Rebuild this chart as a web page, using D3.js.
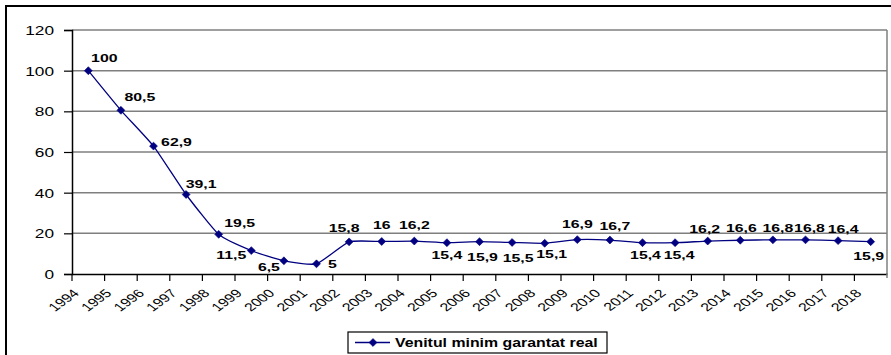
<!DOCTYPE html>
<html>
<head>
<meta charset="utf-8">
<script src="https://cdn.jsdelivr.net/npm/d3@7/dist/d3.min.js"></script>
<style>
  html, body { margin: 0; padding: 0; background: #fff; }
  svg { display: block; }
  text { font-family: "Liberation Sans", Arial, sans-serif; fill: #000; }
</style>
</head>
<body>
<svg id="chart" width="891" height="355"></svg>
<script>
// ---- data ----
const years = ["1994","1995","1996","1997","1998","1999","2000","2001","2002","2003","2004","2005","2006",
               "2007","2008","2009","2010","2011","2012","2013","2014","2015","2016","2017","2018"];
const values = [100, 80.5, 62.9, 39.1, 19.5, 11.5, 6.5, 5, 15.8, 16, 16.2, 15.4, 15.9,
                15.5, 15.1, 16.9, 16.7, 15.4, 15.4, 16.2, 16.6, 16.8, 16.8, 16.4, 15.9];
const yTicks = [0, 20, 40, 60, 80, 100, 120];
const seriesName = "Venitul minim garantat real";

// label placement (offset of label centre from its point, px)
const labelOffsets = [[16,-13],[19,-13],[23,-4],[15,-11],[21,-11],[-20,4],[-15,6],[16,0],
  [-5,-14],[0,-17],[0,-16],[0,12],[3,15],[6,15],[7,11],[0,-16],[5,-14],[3,12],[4,12],
  [-3,-12],[1,-12],[5,-12],[4,-12],[5,-12],[-2,14]];

const SX = 1.38; // horizontal stretch of text in the reference
const navy = "#000080";

const svg = d3.select("#chart");

// outer border
svg.append("rect").attr("x", 6).attr("y", 6).attr("width", 900).attr("height", 360)
  .attr("fill", "none").attr("stroke", "#000").attr("stroke-width", 2);

const pLeft = 72, pRight = 887, pTop = 30, pBottom = 274;

const x = d3.scaleBand().domain(years).range([pLeft, pRight]).paddingInner(0).paddingOuter(0);
const y = d3.scaleLinear().domain([0, 120]).range([pBottom, pTop]);

// gridlines
svg.append("g").selectAll("line").data(yTicks.filter(d => d > 0)).join("line")
  .attr("x1", pLeft).attr("x2", pRight)
  .attr("y1", d => y(d)).attr("y2", d => y(d))
  .attr("stroke", "#7f7f7f").attr("stroke-width", 1.5);

// right border of plot
svg.append("line").attr("x1", pRight).attr("x2", pRight).attr("y1", pTop).attr("y2", pBottom)
  .attr("stroke", "#7f7f7f").attr("stroke-width", 1.5);

// y axis
const yAxis = d3.axisLeft(y).tickValues(yTicks).tickSize(8).tickFormat(d3.format("d"));
const gy = svg.append("g").attr("transform", `translate(${pLeft},0)`).call(yAxis);
gy.select(".domain").attr("stroke", "#000").attr("stroke-width", 1.5);
gy.selectAll(".tick line").attr("stroke", "#000").attr("stroke-width", 1.2);
gy.selectAll(".tick text").attr("x", null).attr("dy", null)
  .style("font-size", "12.5px")
  .attr("text-anchor", "end").attr("dominant-baseline", "central")
  .attr("transform", `translate(-18,0) scale(${SX},1)`);

// x axis: ticks at band boundaries, labels at band starts
const xAxis = d3.axisBottom(x).tickSize(7).tickSizeOuter(0);
const gx = svg.append("g").attr("transform", `translate(0,${pBottom})`).call(xAxis);
gx.select(".domain").attr("stroke", "#000").attr("stroke-width", 1.5);
gx.selectAll(".tick").attr("transform", d => `translate(${x(d)},0)`);
gx.selectAll(".tick line").attr("stroke", "#000").attr("stroke-width", 1.2);
gx.selectAll(".tick text").attr("y", null).attr("dy", null)
  .style("font-size", "11.5px")
  .attr("text-anchor", "end")
  .attr("transform", `translate(8,20) scale(${SX},1) rotate(-45)`);
// closing tick at right end
gx.append("line").attr("x1", pRight).attr("x2", pRight).attr("y1", 0).attr("y2", 4)
  .attr("stroke", "#7f7f7f").attr("stroke-width", 1.5);

// series
const cx = d => x(d) + x.bandwidth() / 2;
const pts = years.map((yr, i) => ({ yr, v: values[i], i }));

const line = d3.line().x(d => cx(d.yr)).y(d => y(d.v)).curve(d3.curveCardinal.tension(0.5));
svg.append("path").datum(pts).attr("d", line)
  .attr("fill", "none").attr("stroke", navy).attr("stroke-width", 1.3);

const diamond = d3.symbol().type(d3.symbolDiamond2).size(40);
svg.append("g").selectAll("path").data(pts).join("path")
  .attr("d", diamond)
  .attr("transform", d => `translate(${cx(d.yr)},${y(d.v)})`)
  .attr("fill", navy).attr("stroke", navy).attr("stroke-width", 0.6);

// data labels
const fmt = v => String(v).replace(".", ",");
svg.append("g").selectAll("text").data(pts).join("text")
  .attr("transform", d => `translate(${cx(d.yr) + labelOffsets[d.i][0]},${y(d.v) + labelOffsets[d.i][1]}) scale(${SX},1)`)
  .attr("text-anchor", "middle").attr("dominant-baseline", "central")
  .style("font-size", "11.5px").style("font-weight", "bold")
  .text(d => fmt(d.v));

// legend
const lg = svg.append("g");
lg.append("rect").attr("x", 348).attr("y", 332).attr("width", 259).attr("height", 21)
  .attr("fill", "#fff").attr("stroke", "#000").attr("stroke-width", 1.2);
lg.append("line").attr("x1", 355).attr("x2", 390).attr("y1", 342.5).attr("y2", 342.5)
  .attr("stroke", navy).attr("stroke-width", 1.3);
lg.append("path").attr("d", diamond).attr("transform", "translate(373,342.5)")
  .attr("fill", navy).attr("stroke", navy).attr("stroke-width", 0.6);
lg.append("text").attr("transform", `translate(395,342.5) scale(1.22,1)`)
  .attr("dominant-baseline", "central")
  .style("font-size", "13px").style("font-weight", "bold")
  .text(seriesName);
</script>
</body>
</html>
